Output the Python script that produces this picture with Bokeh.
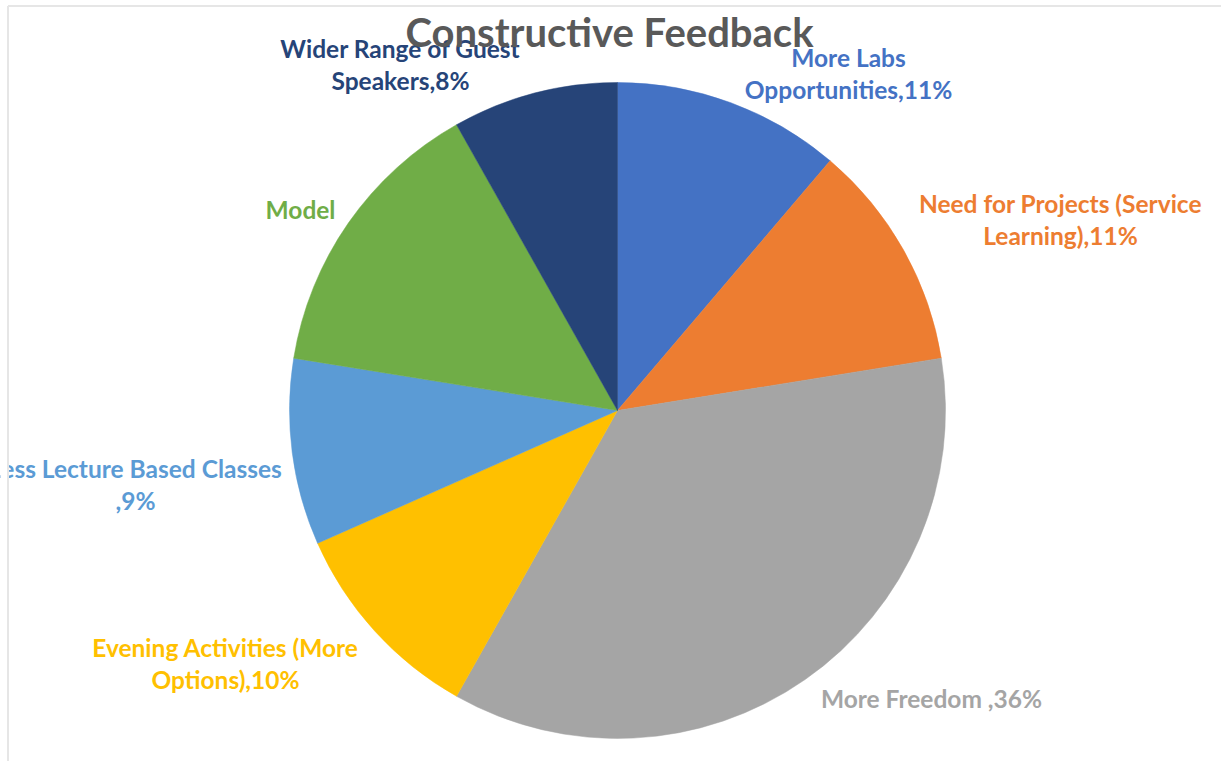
import numpy as np
from bokeh.plotting import figure
from bokeh.models import Range1d, ColumnDataSource
from bokeh.core.properties import value
from bokeh.embed import file_html
from bokeh.resources import INLINE

# ---- data ----
categories = ["More Labs Opportunities", "Need for Projects (Service Learning)", "More Freedom",
              "Evening Activities (More Options)", "Less Lecture Based Classes", "Model",
              "Wider Range of Guest Speakers"]
counts = [11, 11, 35, 10, 9, 14, 8]
colors = ["#4472C4", "#ED7D31", "#A5A5A5", "#FFC000", "#5B9BD5", "#70AD47", "#264478"]
label_lines = [
    ["More Labs", "Opportunities,11%"],
    ["Need for Projects (Service", "Learning),11%"],
    ["More Freedom ,36%"],
    ["Evening Activities (More", "Options),10%"],
    ["Less Lecture Based Classes", ",9%"],
    ["Model"],
    ["Wider Range of Guest", "Speakers,8%"],
]
title_text = "Constructive Feedback"

W, H = 1221, 761
p = figure(width=W, height=H, output_backend="svg", toolbar_location=None,
           x_range=Range1d(0, W), y_range=Range1d(0, H), min_border=0)
p.axis.visible = False
p.grid.visible = False
p.outline_line_color = None
p.background_fill_color = "white"
p.border_fill_color = "white"

vals = np.array(counts, dtype=float)
frac = vals / vals.sum()
cum = np.cumsum(frac)
start = np.pi / 2 - 2 * np.pi * (cum - frac)
end = np.pi / 2 - 2 * np.pi * cum

cx, cy, r = 617, H - 410, 328
src = ColumnDataSource(dict(start=start, end=end, color=colors))
p.wedge(x=cx, y=cy, radius=r, start_angle="start", end_angle="end", direction="clock",
        fill_color="color", line_color="color", line_width=0.5, source=src)

# label anchor positions (pixel coords from top-left)
label_pos = [(848, 57), (1060, 203), (931, 698), (225, 647), (135, 468), (300, 209), (400, 48)]
label_colors = ["#4472C4", "#ED7D31", "#A5A5A5", "#FFC000", "#5B9BD5", "#70AD47", "#264478"]
line_gap = 32
for (lx, ly), lines, col in zip(label_pos, label_lines, label_colors):
    for i, t in enumerate(lines):
        p.text(x=[lx], y=[H - (ly + i * line_gap)], text=[t], text_align="center",
               text_baseline="middle", text_color=col, text_font=value("Lato"),
               text_font_style="bold", text_font_size="24.5px")

# title
p.text(x=[609], y=[H - 31], text=[title_text], text_align="center", text_baseline="middle",
       text_color="#595959", text_font=value("Lato"), text_font_style="bold",
       text_font_size="40px")

# frame edges of the cropped screenshot
p.quad(left=[0], right=[7], bottom=[0], top=[H], fill_color="white", line_color=None)
p.segment(x0=[7.5], y0=[0], x1=[7.5], y1=[H - 5.5], line_color="#e6e6e6", line_width=2)
p.segment(x0=[7.5], y0=[H - 5.5], x1=[W], y1=[H - 5.5], line_color="#e6e6e6", line_width=2)

open("out.html", "w").write(file_html(p, INLINE))
